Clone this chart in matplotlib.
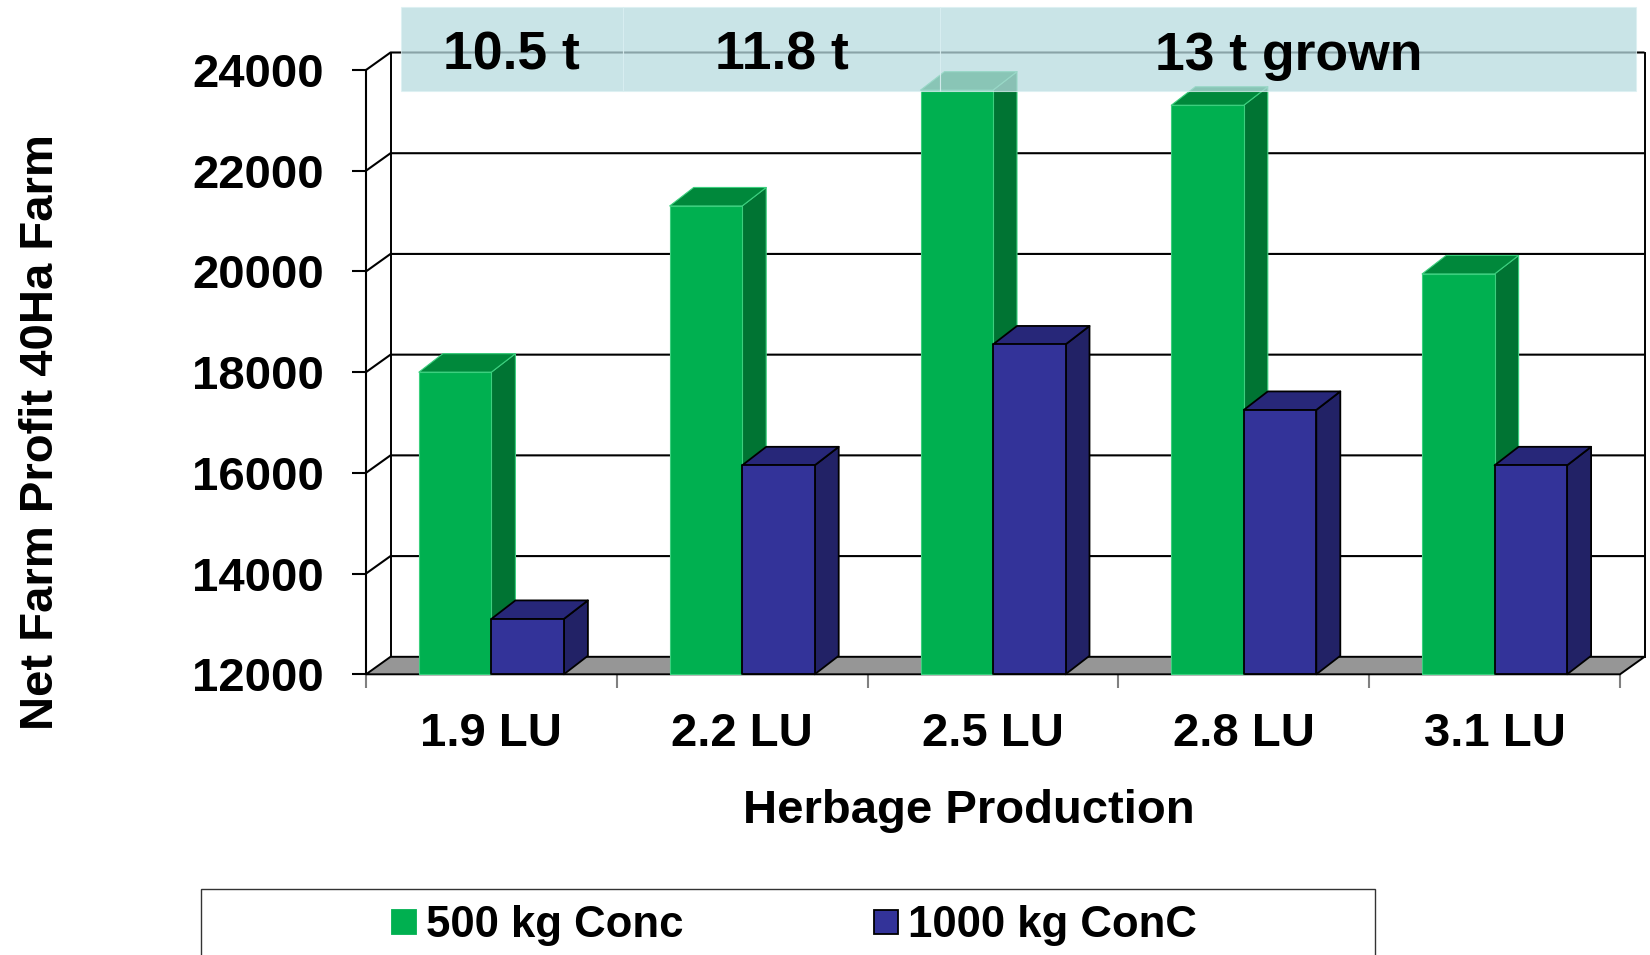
import matplotlib
matplotlib.use("Agg")
import matplotlib.pyplot as plt
from matplotlib.patches import Polygon, Rectangle

# ---- data -------------------------------------------------------------
categories = ["1.9 LU", "2.2 LU", "2.5 LU", "2.8 LU", "3.1 LU"]
series_names = ["500 kg Conc", "1000 kg ConC"]
conc_500 = [18000, 21300, 23600, 23300, 19950]
conc_1000 = [13100, 16150, 18550, 17250, 16150]
y_ticks = [12000, 14000, 16000, 18000, 20000, 22000, 24000]
band_labels = ["10.5 t", "11.8 t", "13 t grown"]

# ---- styling ------------------------------------------------------------
FONT = "Liberation Sans"
plt.rcParams["font.family"] = [FONT, "DejaVu Sans"]
plt.rcParams["font.weight"] = "bold"

faces = [
    dict(front="#00B050", side="#007433", top="#00883B", edge="#3ccf7e", lw=0.8),
    dict(front="#333399", side="#222266", top="#272779", edge="black", lw=1.3),
]

W, H = 1650, 955
fig = plt.figure(figsize=(W / 100, H / 100), dpi=100)


def fx(x):
    return x / W


def fy(y):
    return 1 - y / H


# front plane of the plot area
LEFT, RIGHT, BOTTOM, TOP = 366, 1620, 674.3, 70
ax = fig.add_axes([fx(LEFT), fy(BOTTOM), fx(RIGHT) - fx(LEFT), fy(TOP) - fy(BOTTOM)])
n = len(categories)
base, top = y_ticks[0], y_ticks[-1]
ax.set_xlim(0, n)
ax.set_ylim(base, top)
ax.patch.set_visible(False)

# depth of the pseudo-3D box, expressed in data units
ux = n / (RIGHT - LEFT)
uy = (top - base) / (BOTTOM - TOP)
DX, DY = 24.5 * ux, 17.5 * uy
BDX, BDY = 24 * ux, 18.5 * uy
bar_w = 72.5 * ux

# walls: gridlines run across the side wall and the back wall
for t in y_ticks[1:]:
    ax.plot([0, DX, n + DX], [t, t + DY, t + DY], color="black", lw=1.5,
            clip_on=False, zorder=1, solid_capstyle="butt")
ax.plot([DX, DX], [base + DY, top + DY], color="black", lw=1.4, clip_on=False, zorder=1)
ax.plot([n + DX, n + DX], [base + DY, top + DY], color="black", lw=1.4, clip_on=False, zorder=1)

# floor
ax.add_patch(Polygon([(0, base), (n, base), (n + DX, base + DY), (DX, base + DY)],
                     closed=True, fc="#969696", ec="black", lw=1.4,
                     clip_on=False, zorder=2))

# bars: front face, side face and top face
for i in range(n):
    for s, vals in enumerate([conc_500, conc_1000]):
        v = vals[i]
        st = faces[s]
        x0 = i + 0.5 - bar_w + s * bar_w
        x1 = x0 + bar_w
        kw = dict(closed=True, ec=st["edge"], lw=st["lw"], clip_on=False,
                  zorder=3 + 0.1 * s + 0.01 * i, joinstyle="round")
        ax.add_patch(Polygon([(x1, base), (x1 + BDX, base + BDY),
                              (x1 + BDX, v + BDY), (x1, v)], fc=st["side"], **kw))
        ax.add_patch(Polygon([(x0, v), (x0 + BDX, v + BDY),
                              (x1 + BDX, v + BDY), (x1, v)], fc=st["top"], **kw))
        ax.add_patch(Polygon([(x0, base), (x1, base), (x1, v), (x0, v)],
                             fc=st["front"], **kw))

# axes, ticks and tick labels
for side in ["top", "right", "bottom"]:
    ax.spines[side].set_visible(False)
ax.spines["left"].set_linewidth(1.5)
ax.spines["left"].set_zorder(2.5)

ax.set_yticks(y_ticks)
ax.set_yticklabels([str(t) for t in y_ticks])
ax.tick_params(axis="y", direction="out", length=10, width=1.5, color="black",
               pad=20.5, labelsize=34)

ax.set_xticks(range(n + 1))
ax.set_xticklabels([""] * (n + 1))
ax.set_xticks([i + 0.5 for i in range(n)], minor=True)
ax.set_xticklabels(categories, minor=True)
ax.tick_params(axis="x", which="major", direction="out", length=10, width=1.5,
               color="#808080")
ax.tick_params(axis="x", which="minor", length=0, pad=27.5, labelsize=34)

# axis titles
fig.text(fx(53), fy(432), "Net Farm Profit 40Ha Farm", rotation=90,
         rotation_mode="anchor", ha="center", va="baseline", fontsize=34,
         fontweight="bold")
fig.text(fx(968.6), fy(823), "Herbage Production", ha="center", va="baseline",
         fontsize=34, fontweight="bold")

# translucent header band with herbage-grown labels
band_edges = [401, 623, 940, 1636]
band_top, band_bottom = 7.5, 91
for k, label in enumerate(band_labels):
    x_a, x_b = band_edges[k], band_edges[k + 1]
    fig.add_artist(Rectangle((fx(x_a), fy(band_bottom)), fx(x_b) - fx(x_a),
                             fy(band_top) - fy(band_bottom),
                             transform=fig.transFigure, fc=(0.72, 0.86, 0.88),
                             ec=(0.86, 0.94, 0.95), lw=0.8, alpha=0.75, zorder=5))
label_x = [511.5, 782, 1288.5]
for label, xc in zip(band_labels, label_x):
    fig.text(fx(xc), fy(70), label, ha="center", va="baseline", fontsize=38.5,
             fontweight="bold", zorder=6)

# legend box, running off the bottom edge
fig.add_artist(Rectangle((fx(201), fy(975)), fx(1375) - fx(201), fy(888.5) - fy(975),
                         transform=fig.transFigure, fc="white", ec="#333333",
                         lw=1.0, zorder=5))
legend_keys = [(392, 426), (874, 908)]
for (kx, tx), name, st in zip(legend_keys, series_names, faces):
    fig.add_artist(Rectangle((fx(kx), fy(934)), fx(kx + 23.5) - fx(kx), fy(910) - fy(934),
                             transform=fig.transFigure, fc=st["front"],
                             ec="black" if st["edge"] == "black" else st["front"],
                             lw=1.3, zorder=6))
    fig.text(fx(tx), fy(937), name, ha="left", va="baseline", fontsize=31.5,
             fontweight="bold", zorder=6)

fig.savefig("out.png", dpi=100)
